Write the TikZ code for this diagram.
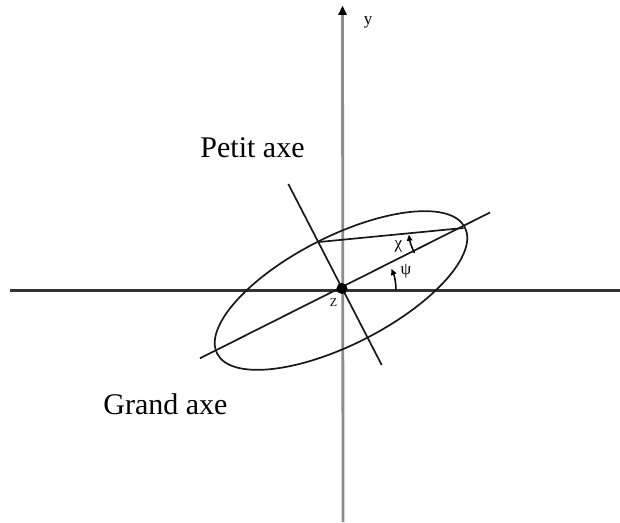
\documentclass[tikz,border=0pt]{standalone}
\usepackage{fontspec}
\setmainfont{Liberation Serif}
\usetikzlibrary{arrows.meta}
\begin{document}
\begin{tikzpicture}[x=1pt,y=1pt,
  thinline/.style={line width=1.7pt,draw=black!90},
  yaxis/.style={line width=2.8pt,draw=black!45},
  xaxis/.style={line width=2.4pt,draw=black!80},
  anglearrow/.style={line width=1.5pt,draw=black,-{Triangle[length=6pt,width=5.5pt]}},
  biglabel/.style={font=\fontsize{30}{34}\selectfont,inner sep=0pt,anchor=base},
  smalllabel/.style={font=\fontsize{17}{19}\selectfont,inner sep=0pt}]
\useasboundingbox (0,0) rectangle (620,522);
\fill[white] (0,0) rectangle (620,522);
\clip (0,0) rectangle (620,522);
% named points
\coordinate (O) at (343,231.5);
\coordinate (EC) at (341,231.5);
\coordinate (Ybot) at (343,0);
\coordinate (Ytop) at (342.5,514);
\coordinate (Xl) at (10,231.5);
\coordinate (Xr) at (636,231.5);
\coordinate (Ga) at (200,163.7);
\coordinate (Gb) at (490,309.5);
\coordinate (Pa) at (288.3,338);
\coordinate (Pb) at (381.7,157);
\coordinate (M1) at (319,280);
\coordinate (M2) at (463.5,294);
\coordinate (PsiS) at (396,231.5);
\coordinate (ChiS) at (414.5,269);
% axes
\draw[yaxis] (Ybot) -- (Ytop);
\fill[black] (Ytop) ++(0,2) -- ++(-4.5,-9) -- ++(9,0) -- cycle;
\draw[xaxis,-{Triangle[length=9pt,width=9pt]}] (Xl) -- (Xr);
% ellipse and axes of ellipse
\draw[thinline,rotate around={27:(EC)}] (EC) ellipse [x radius=139pt, y radius=54pt];
\draw[thinline] (Ga) -- (Gb);
\draw[thinline] (Pa) -- (Pb);
\draw[thinline] (M1) -- (M2);
% angle arcs
\draw[anglearrow] (PsiS) arc[start angle=0,end angle=24,radius=53pt];
\draw[anglearrow] (ChiS) arc[start angle=207,end angle=187,radius=55pt];
% centre dot
\fill[black] (342,233.5) circle[radius=5.5pt];
% labels
\node[biglabel] (petit) at (252.5,364) {Petit axe};
\node[biglabel] (grand) at (165.5,108) {Grand axe};
\node[smalllabel] (ylab) at (368,500) {y};
\node[smalllabel] (chi) at (398.5,276) {χ};
\node[smalllabel] (psi) at (406,251) {ψ};
\node[font=\fontsize{12}{13}\selectfont,inner sep=0pt] (zlab) at (333.5,219) {Z};
\end{tikzpicture}
\end{document}
